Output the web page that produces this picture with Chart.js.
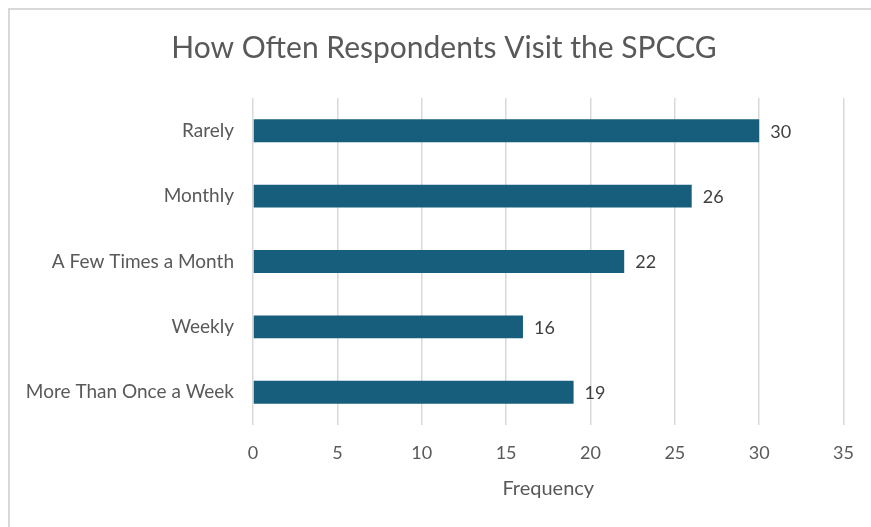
<!DOCTYPE html>
<html>
<head>
<meta charset="utf-8">
<script src="https://cdn.jsdelivr.net/npm/chart.js@4/dist/chart.umd.min.js"></script>
<style>
  html, body { margin: 0; padding: 0; background: #fff; overflow: hidden; }
  #wrap { position: relative; width: 871px; height: 527px; }
  #frame { position: absolute; left: 8px; top: 8px; width: 900px; height: 560px; border: 2px solid #d9d9d9; box-sizing: border-box; pointer-events: none; }
</style>
</head>
<body>
<div id="wrap">
  <canvas id="barChart" width="871" height="527"></canvas>
  <div id="frame"></div>
</div>
<script>
var chartTitle = 'How Often Respondents Visit the SPCCG';
var categories = ['Rarely', 'Monthly', 'A Few Times a Month', 'Weekly', 'More Than Once a Week'];
var frequency = [30, 26, 22, 16, 19];
var xTicks = [0, 5, 10, 15, 20, 25, 30, 35];

// draws the value just past the end of each bar, plus the title (centred a bit right of the canvas middle)
var valueLabels = {
  id: 'valueLabels',
  afterDatasetsDraw: function (chart) {
    var ctx = chart.ctx;
    var meta = chart.getDatasetMeta(0);
    ctx.save();
    ctx.font = '18px Lato';
    ctx.fillStyle = '#404040';
    ctx.textAlign = 'left';
    ctx.textBaseline = 'middle';
    meta.data.forEach(function (bar, i) {
      ctx.fillText(frequency[i], bar.x + 11, bar.y + 1);
    });

    ctx.font = '30px Lato';
    ctx.fillStyle = '#595959';
    ctx.textAlign = 'center';
    ctx.fillText(chartTitle, 444, 48);
    ctx.restore();
  }
};

var ctx = document.getElementById('barChart').getContext('2d');
var chart = new Chart(ctx, {
  type: 'bar',
  data: {
    labels: categories,
    datasets: [{
      label: 'Frequency',
      backgroundColor: '#175e7d',
      data: frequency,
      barPercentage: 0.7,
      categoryPercentage: 0.5
    }]
  },
  options: {
    indexAxis: 'y',
    responsive: false,
    animation: false,
    layout: { padding: { left: 0, right: 25, top: 98, bottom: 0 } },
    plugins: {
      legend: { display: false },
      tooltip: { enabled: false },
      title: { display: false }
    },
    scales: {
      x: {
        min: 0,
        max: 35,
        afterBuildTicks: function (scale) {
          scale.ticks = xTicks.map(function (v) { return { value: v }; });
        },
        afterFit: function (scale) { scale.height = 102; },
        grid: { color: '#d9d9d9', lineWidth: 1.5, drawTicks: false },
        border: { display: false },
        ticks: { color: '#595959', font: { family: 'Lato', size: 18 }, padding: 17 },
        title: {
          display: true,
          text: 'Frequency',
          color: '#595959',
          font: { family: 'Lato', size: 20 },
          padding: { top: 0, bottom: 26 }
        }
      },
      y: {
        afterFit: function (scale) { scale.width = 253; },
        grid: { display: false, drawTicks: false },
        border: { display: false },
        ticks: { color: '#595959', font: { family: 'Lato', size: 19 }, padding: 19 }
      }
    }
  },
  plugins: [valueLabels]
});
</script>
</body>
</html>
